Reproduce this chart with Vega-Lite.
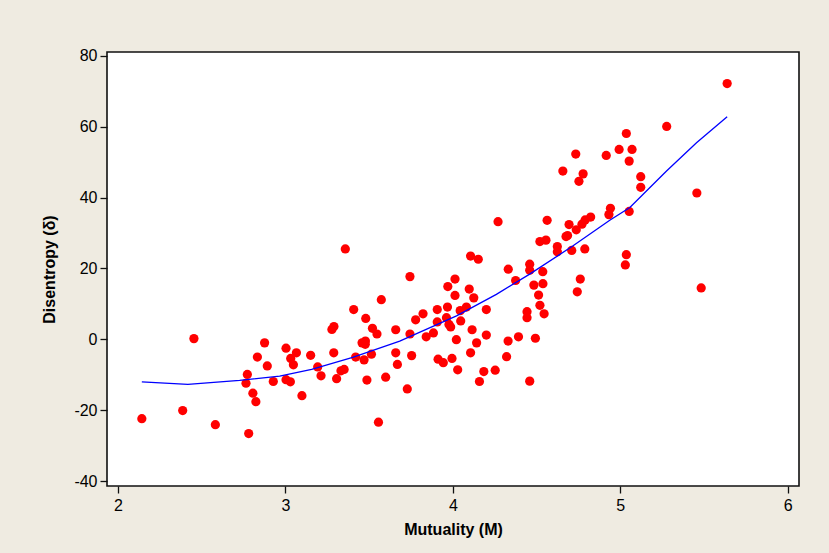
{
  "$schema": "https://vega.github.io/schema/vega-lite/v6.json",
  "width": 692,
  "height": 434,
  "autosize": {"type": "none"},
  "padding": {"left": 107, "top": 52, "right": 30, "bottom": 67},
  "background": "#EFEBE1",
  "config": {
    "view": {"stroke": "#111111", "strokeWidth": 1.6, "fill": "white"},
    "axis": {
      "grid": false,
      "domain": false,
      "tickColor": "#111111",
      "tickSize": 7,
      "tickWidth": 1.3,
      "labelColor": "#000000",
      "labelFont": "Liberation Sans Narrow, Liberation Sans, sans-serif",
      "labelFontSize": 16,
      "titleFont": "Liberation Sans, sans-serif",
      "titleFontSize": 16,
      "titleFontWeight": "bold",
      "titleColor": "#000000",
      "labelExpr": "replace(datum.label, '−', '-')"
    }
  },
  "datasets": {
    "points": [
      {"mutuality": 2.143, "disentropy": -22.4},
      {"mutuality": 2.387, "disentropy": -20.1},
      {"mutuality": 2.454, "disentropy": 0.2},
      {"mutuality": 2.582, "disentropy": -24.1},
      {"mutuality": 2.781, "disentropy": -26.6},
      {"mutuality": 2.773, "disentropy": -9.9},
      {"mutuality": 2.765, "disentropy": -12.4},
      {"mutuality": 2.806, "disentropy": -15.2},
      {"mutuality": 2.824, "disentropy": -17.6},
      {"mutuality": 2.833, "disentropy": -5.0},
      {"mutuality": 2.876, "disentropy": -1.0},
      {"mutuality": 2.892, "disentropy": -7.5},
      {"mutuality": 2.928, "disentropy": -11.9},
      {"mutuality": 3.004, "disentropy": -2.5},
      {"mutuality": 3.032, "disentropy": -5.4},
      {"mutuality": 3.066, "disentropy": -3.8},
      {"mutuality": 3.048, "disentropy": -7.2},
      {"mutuality": 3.004, "disentropy": -11.4},
      {"mutuality": 3.03, "disentropy": -12.0},
      {"mutuality": 3.099, "disentropy": -15.9},
      {"mutuality": 3.151, "disentropy": -4.5},
      {"mutuality": 3.193, "disentropy": -7.8},
      {"mutuality": 3.213, "disentropy": -10.3},
      {"mutuality": 3.278, "disentropy": 2.8},
      {"mutuality": 3.29, "disentropy": 3.6},
      {"mutuality": 3.289, "disentropy": -3.8},
      {"mutuality": 3.306, "disentropy": -11.1},
      {"mutuality": 3.332, "disentropy": -8.9},
      {"mutuality": 3.351, "disentropy": -8.5},
      {"mutuality": 3.358, "disentropy": 25.5},
      {"mutuality": 3.408, "disentropy": 8.4},
      {"mutuality": 3.48, "disentropy": 5.9},
      {"mutuality": 3.52, "disentropy": 3.1},
      {"mutuality": 3.547, "disentropy": 1.5},
      {"mutuality": 3.573, "disentropy": 11.2},
      {"mutuality": 3.458, "disentropy": -1.0},
      {"mutuality": 3.478, "disentropy": -0.5},
      {"mutuality": 3.477, "disentropy": -1.4},
      {"mutuality": 3.42, "disentropy": -5.0},
      {"mutuality": 3.47, "disentropy": -5.8},
      {"mutuality": 3.514, "disentropy": -4.2},
      {"mutuality": 3.487, "disentropy": -11.5},
      {"mutuality": 3.599, "disentropy": -10.7},
      {"mutuality": 3.556, "disentropy": -23.4},
      {"mutuality": 3.659, "disentropy": 2.7},
      {"mutuality": 3.659, "disentropy": -3.8},
      {"mutuality": 3.669, "disentropy": -7.1},
      {"mutuality": 3.744, "disentropy": 17.7},
      {"mutuality": 3.744, "disentropy": 1.5},
      {"mutuality": 3.754, "disentropy": -4.6},
      {"mutuality": 3.728, "disentropy": -14.0},
      {"mutuality": 3.778, "disentropy": 5.5},
      {"mutuality": 3.822, "disentropy": 7.2},
      {"mutuality": 3.841, "disentropy": 0.7},
      {"mutuality": 3.884, "disentropy": 1.8},
      {"mutuality": 3.907, "disentropy": 8.4},
      {"mutuality": 3.907, "disentropy": 4.9},
      {"mutuality": 3.912, "disentropy": -5.6},
      {"mutuality": 3.943, "disentropy": -6.6},
      {"mutuality": 3.97, "disentropy": 14.9},
      {"mutuality": 4.013, "disentropy": 17.0},
      {"mutuality": 4.013, "disentropy": 12.4},
      {"mutuality": 3.968, "disentropy": 9.1},
      {"mutuality": 3.962, "disentropy": 6.1},
      {"mutuality": 3.977, "disentropy": 4.2},
      {"mutuality": 3.987, "disentropy": 3.5},
      {"mutuality": 3.995, "disentropy": -5.4},
      {"mutuality": 4.021, "disentropy": -0.1},
      {"mutuality": 4.029, "disentropy": -8.6},
      {"mutuality": 4.044, "disentropy": 8.1},
      {"mutuality": 4.047, "disentropy": 5.2},
      {"mutuality": 4.081, "disentropy": 9.1},
      {"mutuality": 4.098, "disentropy": 14.2},
      {"mutuality": 4.125, "disentropy": 11.7},
      {"mutuality": 4.106, "disentropy": 23.5},
      {"mutuality": 4.152, "disentropy": 22.6},
      {"mutuality": 4.115, "disentropy": 2.7},
      {"mutuality": 4.142, "disentropy": -1.0},
      {"mutuality": 4.106, "disentropy": -3.8},
      {"mutuality": 4.185, "disentropy": -9.1},
      {"mutuality": 4.159, "disentropy": -11.9},
      {"mutuality": 4.2, "disentropy": 8.4},
      {"mutuality": 4.2, "disentropy": 1.2},
      {"mutuality": 4.253, "disentropy": -8.7},
      {"mutuality": 4.27, "disentropy": 33.2},
      {"mutuality": 4.331, "disentropy": 19.8},
      {"mutuality": 4.375, "disentropy": 16.6},
      {"mutuality": 4.33, "disentropy": -0.5},
      {"mutuality": 4.392, "disentropy": 0.7},
      {"mutuality": 4.321, "disentropy": -4.9},
      {"mutuality": 4.459, "disentropy": -11.8},
      {"mutuality": 4.459, "disentropy": 21.2},
      {"mutuality": 4.459, "disentropy": 19.5},
      {"mutuality": 4.537, "disentropy": 19.1},
      {"mutuality": 4.484, "disentropy": 15.3},
      {"mutuality": 4.538, "disentropy": 15.7},
      {"mutuality": 4.512, "disentropy": 12.5},
      {"mutuality": 4.52, "disentropy": 9.6},
      {"mutuality": 4.545, "disentropy": 7.2},
      {"mutuality": 4.443, "disentropy": 7.8},
      {"mutuality": 4.443, "disentropy": 6.1},
      {"mutuality": 4.493, "disentropy": 0.3},
      {"mutuality": 4.563, "disentropy": 33.6},
      {"mutuality": 4.52, "disentropy": 27.6},
      {"mutuality": 4.556, "disentropy": 28.0},
      {"mutuality": 4.624, "disentropy": 26.2},
      {"mutuality": 4.624, "disentropy": 24.7},
      {"mutuality": 4.676, "disentropy": 29.0},
      {"mutuality": 4.685, "disentropy": 29.3},
      {"mutuality": 4.657, "disentropy": 47.5},
      {"mutuality": 4.71, "disentropy": 25.1},
      {"mutuality": 4.694, "disentropy": 32.4},
      {"mutuality": 4.737, "disentropy": 30.9},
      {"mutuality": 4.771, "disentropy": 32.5},
      {"mutuality": 4.79, "disentropy": 33.7},
      {"mutuality": 4.823, "disentropy": 34.5},
      {"mutuality": 4.788, "disentropy": 25.5},
      {"mutuality": 4.761, "disentropy": 17.0},
      {"mutuality": 4.743, "disentropy": 13.4},
      {"mutuality": 4.734, "disentropy": 52.3},
      {"mutuality": 4.778, "disentropy": 46.7},
      {"mutuality": 4.753, "disentropy": 44.6},
      {"mutuality": 4.916, "disentropy": 51.9},
      {"mutuality": 4.941, "disentropy": 37.0},
      {"mutuality": 4.932, "disentropy": 35.2},
      {"mutuality": 4.993, "disentropy": 53.6},
      {"mutuality": 5.07, "disentropy": 53.6},
      {"mutuality": 5.053, "disentropy": 50.3},
      {"mutuality": 5.036, "disentropy": 58.1},
      {"mutuality": 5.053, "disentropy": 36.1},
      {"mutuality": 5.036, "disentropy": 23.9},
      {"mutuality": 5.03, "disentropy": 21.0},
      {"mutuality": 5.122, "disentropy": 45.9},
      {"mutuality": 5.122, "disentropy": 42.9},
      {"mutuality": 5.277, "disentropy": 60.1},
      {"mutuality": 5.457, "disentropy": 41.3},
      {"mutuality": 5.483, "disentropy": 14.5},
      {"mutuality": 5.638, "disentropy": 72.2}
    ],
    "fit": [
      {"mutuality": 2.143, "disentropy": -12.0},
      {"mutuality": 2.418, "disentropy": -12.7},
      {"mutuality": 2.727, "disentropy": -11.6},
      {"mutuality": 2.966, "disentropy": -10.4},
      {"mutuality": 3.157, "disentropy": -8.5},
      {"mutuality": 3.402, "disentropy": -5.1},
      {"mutuality": 3.683, "disentropy": -0.5},
      {"mutuality": 4.022, "disentropy": 6.6},
      {"mutuality": 4.26, "disentropy": 12.7},
      {"mutuality": 4.459, "disentropy": 18.4},
      {"mutuality": 4.718, "disentropy": 26.4},
      {"mutuality": 4.937, "disentropy": 33.6},
      {"mutuality": 5.057, "disentropy": 37.2},
      {"mutuality": 5.276, "disentropy": 47.5},
      {"mutuality": 5.455, "disentropy": 55.5},
      {"mutuality": 5.638, "disentropy": 62.8}
    ]
  },
  "encoding": {
    "x": {
      "field": "mutuality",
      "type": "quantitative",
      "title": "Mutuality (M)",
      "scale": {"domain": [1.935, 6.067], "nice": false, "zero": false},
      "axis": {"values": [2, 3, 4, 5, 6], "titlePadding": 8, "labelPadding": 4}
    },
    "y": {
      "field": "disentropy",
      "type": "quantitative",
      "title": "Disentropy (δ)",
      "scale": {"domain": [-41.4, 81.1], "nice": false, "zero": false},
      "axis": {"values": [-40, -20, 0, 20, 40, 60, 80], "titlePadding": 16, "labelPadding": 3}
    }
  },
  "layer": [
    {
      "data": {"name": "points"},
      "mark": {"type": "circle", "color": "#FF0000", "opacity": 1, "size": 85}
    },
    {
      "data": {"name": "fit"},
      "mark": {"type": "line", "color": "#0000FF", "strokeWidth": 1.3}
    }
  ]
}
